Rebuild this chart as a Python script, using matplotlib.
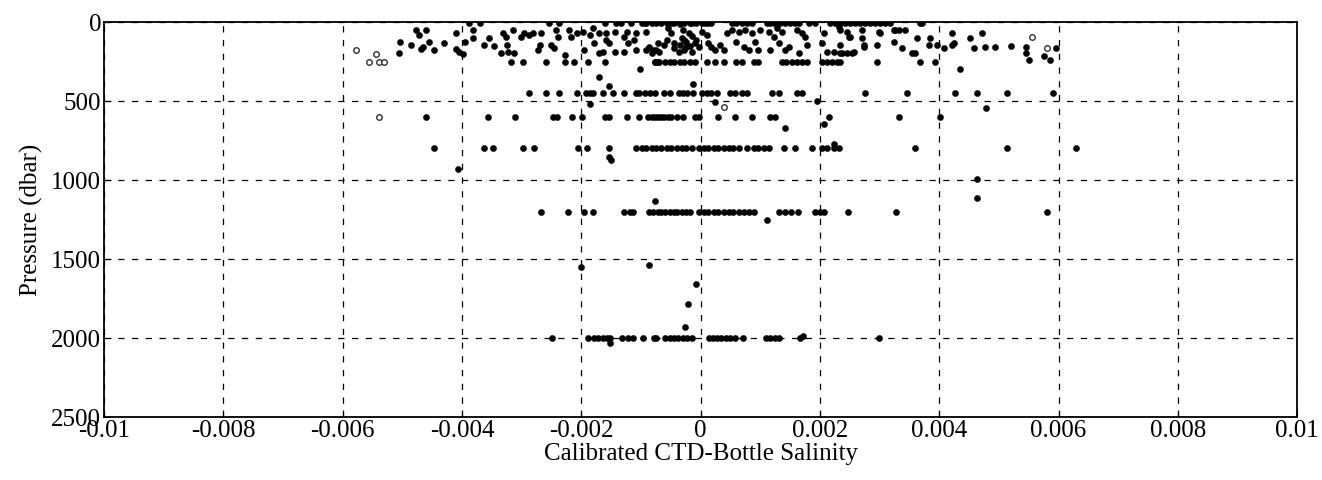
import numpy as np
import matplotlib.pyplot as plt

# salinity differences are kept in units of 1e-3, pressure in dbar

# upper 300 dbar, scattered
top_sal = [-5.04, -5.06, -4.86, -4.77, -4.72, -4.60, -4.69, -4.65, -4.55, -4.47, -4.30, -4.10, -4.10,
           -4.05, -3.98, -3.95, -3.81, -3.81, -3.88, -3.70, -3.63, -3.54, -3.46, -3.31, -3.34, -3.26,
           -3.24, -3.23, -3.14, -3.12, -3.18, -2.97, -3.01, -2.96, -2.87, -2.81, -2.72, -2.70, -2.67,
           -2.59, -2.54, -2.50, -2.45, -2.42, -2.39, -2.37, -2.28, -2.28, -2.20, -2.17, -2.12, -2.08,
           -1.97, -1.95, -1.88, -1.86, -1.80, -1.78, -1.71, -1.71, -1.63, -1.61, -1.58, -1.58, -1.61,
           -1.53, -1.44, -1.44, -1.41, -1.33, -1.29, -1.28, -1.24, -1.21, -1.16, -1.11, -1.08, -1.08,
           -1.02, -0.99, -0.91, -0.91, -0.82, -0.77, -0.74, -0.71,
           -0.91, -0.87, -0.79, -0.71, -0.69, -0.54, -0.49, -0.45, -0.44, -0.37, -0.29, -0.27, -0.24,
           -0.20, -0.15, -0.10, -0.03, 0.02, 0.10, 0.13, 0.18, 0.24, 0.32, 0.39, 0.44, 0.52, 0.60,
           0.64, 0.72, 0.74, 0.81, 0.86, 0.91, 0.97, 0.99, 1.14, 1.16, 1.23, 1.28, 1.31, 1.36, 1.41,
           1.48, 1.61, 1.65, 1.70, 1.75, 1.78, 2.03, 2.07, 2.12, 2.23, 2.32, 2.37, 2.45, 2.49, 2.57,
           2.70, 2.74, 2.96, 3.01, 3.26, 3.43, 3.38, 3.54, 3.63, 3.83, 3.85, 3.96, 4.22, 4.25, 4.35,
           4.52, 4.59,
           -0.32, -0.24, -0.15, -0.07, -0.35, -0.18, -0.27, -0.57, -0.62,
           2.34, 2.50, 2.34, 2.70, 2.99, 2.74, 2.34, 2.45, 2.54, 3.24, 3.33, 3.24, 3.60, 4.08, 4.22,
           4.72, 4.77, 4.94, 3.68,
           5.20, 5.45, 5.45, 5.50, 5.95, 5.75, 5.85]
top_pres = [127, 196, 146, 50, 82, 50, 171, 158, 127, 177, 133, 70, 171,
            190, 203, 127, 50, 101, 8, 8, 146, 101, 152, 70, 196, 95,
            146, 190, 50, 196, 253, 253, 95, 70, 82, 70, 177, 146, 70,
            253, 5, 146, 165, 50, 95, 5, 209, 253, 50, 95, 253, 70,
            63, 177, 253, 82, 35, 133, 70, 196, 190, 5, 70, 114, 253,
            133, 63, 190, 5, 5, 190, 95, 63, 133, 5, 114, 70, 177,
            297, 5, 5, 177, 196, 253, 177, 253,
            63, 158, 177, 133, 190, 38, 70, 165, 133, 190, 50, 114, 158,
            70, 190, 133, 158, 63, 82, 133, 158, 177, 146, 177, 70, 50, 127,
            63, 158, 50, 177, 70, 127, 177, 50, 63, 177, 95, 38, 133, 63, 177,
            158, 50, 196, 70, 95, 146, 133, 70, 190, 190, 32, 196, 63, 95, 190,
            50, 146, 146, 70, 50, 50, 165, 196, 101, 146, 101, 146, 70, 133, 297,
            101, 165,
            101, 127, 89, 114, 146, 152, 177, 114, 146,
            50, 95, 146, 101, 63, 158, 196, 196, 196, 50, 50, 127, 196, 165, 146,
            70, 158, 158, 5,
            152, 158, 196, 240, 165, 215, 240]

# samples lying on the sea surface line
surf_sal = [-0.94, -0.82, -0.74, -0.66, -0.57, -0.49, -0.44, -0.35, -0.27, -0.18, -0.15, -0.07,
            0.02, 0.07, 0.13, 0.18, 0.52, 0.60, 0.69, 0.77, 0.86, 1.11, 1.16, 1.23, 1.28, 1.33,
            1.41, 1.50, 1.58, 1.65, 1.81, 1.92, 2.17, 2.25, 2.34, 2.42, 2.50, 2.59, 2.67, 2.76,
            2.84, 2.92, 3.01, 3.09, 3.18, 3.71]
surf_pres = [6, 4, 8, 5, 3, 7, 5, 9, 4, 6, 3, 8, 5, 4, 7, 6, 5, 3, 8, 4, 6, 5, 7, 4, 9, 5,
             3, 6, 5, 8, 4, 6, 5, 3, 7, 5, 4, 8, 6, 5, 3, 7, 5, 6, 4, 8]

# bottles near 250 dbar
b250_sal = [-0.77, -0.69, -0.60, -0.52, -0.44, -0.35, -0.27, -0.18, -0.10, 0.10, 0.24, 0.39,
            0.60, 0.69, 0.89, 0.97, 1.36, 1.44, 1.53, 1.61, 1.70, 1.78, 2.03, 2.12, 2.20, 2.28,
            2.96, 3.68, 3.93, 2.34]

# bottles near 450 dbar
b450_sal = [-2.87, -2.59, -2.37, -2.08, -1.92, -1.85, -1.80, -1.63, -1.46, -1.28, -1.08, -1.03,
            -0.94, -0.84, -0.77, -0.62, -0.52, -0.37, -0.29, -0.22, -0.12, 0.02, 0.10, 0.18, 0.27,
            0.49, 0.57, 0.69, 0.77, 1.19, 1.31, 1.61, 1.70, 2.76, 3.46, 4.27, 4.64, 5.14, 5.90]

# bottles near 600 dbar
b600_sal = [-4.60, -3.56, -3.11, -2.47, -2.40, -2.15, -1.98, -1.61, -1.53, -1.24, -1.04, -0.89,
            -0.82, -0.77, -0.72, -0.67, -0.62, -0.54, -0.49, -0.40, -0.29, -0.10, -0.03, 0.30,
            0.57, 0.86, 1.16, 1.24, 2.15, 3.33, 4.02]

# bottles near 800 dbar
b800_sal = [-4.47, -3.63, -3.48, -2.97, -2.79, -2.05, -1.90, -1.53, -1.08, -0.99, -0.91, -0.82,
            -0.74, -0.66, -0.57, -0.49, -0.40, -0.32, -0.24, -0.15, -0.03, 0.05, 0.13, 0.22, 0.30,
            0.39, 0.47, 0.55, 0.64, 0.77, 0.89, 0.97, 1.06, 1.14, 1.39, 1.58, 1.86, 2.03, 2.12,
            2.23, 2.32, 3.60, 5.14, 6.30]

# bottles near 1200 dbar
b1200_sal = [-2.67, -2.23, -1.95, -1.80, -1.28, -1.19, -1.13, -0.86, -0.79, -0.72, -0.66, -0.59,
             -0.52, -0.45, -0.39, -0.32, -0.25, -0.18, -0.02, 0.05, 0.13, 0.22, 0.30, 0.39, 0.47,
             0.55, 0.64, 0.72, 0.81, 0.89, 1.31, 1.41, 1.51, 1.63, 1.92, 2.00, 2.07, 2.47, 3.28,
             5.80]

# bottles near 2000 dbar
b2000_sal = [-2.49, -1.88, -1.79, -1.72, -1.63, -1.57, -1.52, -1.31, -1.22, -1.13, -0.96, -0.78,
             -0.74, -0.59, -0.52, -0.45, -0.38, -0.30, -0.23, -0.14, 0.14, 0.21, 0.28, 0.35, 0.42,
             0.50, 0.57, 0.71, 1.10, 1.17, 1.24, 1.31, 1.66, 2.99]

# odd samples between the standard levels
mid_sal = [-1.85, 0.24, 1.95, -1.71, -1.53, -0.12, 1.41, 2.07, 4.79, -1.53, -1.50, -4.07, 2.23,
           -0.77, 1.11, 4.64, 4.64, -2.00, -0.86, -0.07, -0.21, -0.26, -1.52, 1.72]
mid_pres = [520, 505, 500, 350, 405, 390, 670, 645, 545, 855, 875, 930, 770,
            1130, 1250, 995, 1115, 1550, 1540, 1660, 1787, 1930, 2030, 1985]

# samples drawn as open circles
open_sal = [-5.78, -5.44, -5.56, -5.39, -5.31, -5.39, 0.39, 5.55, 5.80]
open_pres = [177, 203, 253, 253, 253, 600, 535, 95, 165]

level_sal = [b250_sal, b450_sal, b600_sal, b800_sal, b1200_sal, b2000_sal]
level_pres = [253, 450, 600, 800, 1200, 2000]

plt.rcParams['font.family'] = ['Liberation Serif', 'DejaVu Serif']

fig = plt.figure(figsize=(13.22, 4.8), dpi=100)
ax = fig.add_axes([0.0787, 0.131, 0.9025, 0.823])

xs = list(top_sal) + list(surf_sal) + list(mid_sal)
ps = list(top_pres) + list(surf_pres) + list(mid_pres)
for sal, p in zip(level_sal, level_pres):
    xs += list(sal)
    ps += [p] * len(sal)

ax.scatter(np.array(xs) * 1e-3, ps, s=20, c='black', edgecolors='black', linewidths=0.3, zorder=3)
ax.scatter(np.array(open_sal) * 1e-3, open_pres, s=16, facecolors='white', edgecolors='#333333',
           linewidths=1.0, zorder=3)

ax.set_xlim(-0.01, 0.01)
ax.set_ylim(2500, 0)
ax.set_xticks(np.arange(-0.01, 0.0101, 0.002))
ax.set_xticklabels(['-0.01', '-0.008', '-0.006', '-0.004', '-0.002', '0',
                    '0.002', '0.004', '0.006', '0.008', '0.01'])
ax.set_yticks([0, 500, 1000, 1500, 2000, 2500])
ax.tick_params(direction='in', length=5, labelsize=18, pad=2)
ax.grid(True, color='black', linestyle=(0, (5, 6)), linewidth=0.9)
for s in ax.spines.values():
    s.set_linewidth(1.3)

ax.set_xlabel('Calibrated CTD-Bottle Salinity', fontsize=18, labelpad=1)
ax.set_ylabel('Pressure (dbar)', fontsize=18, labelpad=6)

fig.savefig('out.png', dpi=100)
